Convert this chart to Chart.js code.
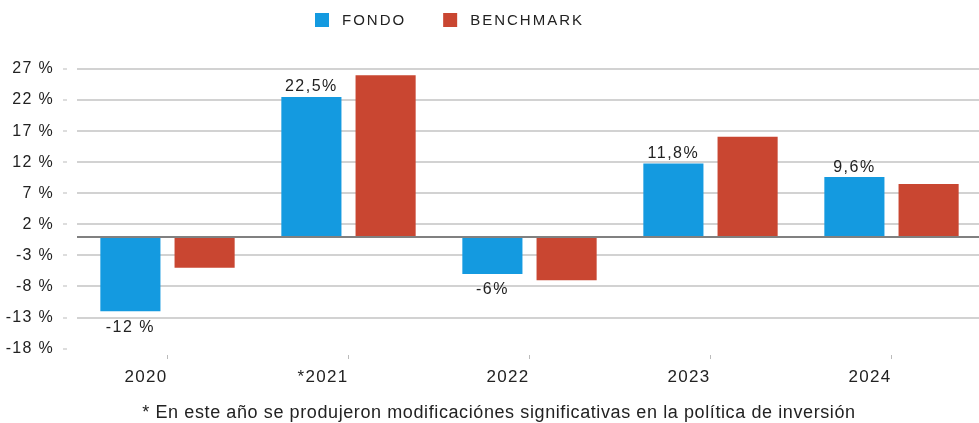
<!DOCTYPE html>
<html>
<head>
<meta charset="utf-8">
<script src="https://cdn.jsdelivr.net/npm/chart.js@4.4.1/dist/chart.umd.min.js"></script>
<style>
  html, body { margin: 0; padding: 0; background: #fff; overflow: hidden; }
  #wrap { width: 982px; height: 423px; position: relative; }
</style>
</head>
<body>
<div id="wrap"><canvas id="chart"></canvas></div>
<script>
// data
const years = ['2020', '*2021', '2022', '2023', '2024'];
const fondo = [-12, 22.5, -6, 11.8, 9.6];
const benchmark = [-5, 26, -7, 16.1, 8.5];
const fondoLabels = ['-12 %', '22,5%', '-6%', '11,8%', '9,6%'];
const yTicks = [-18, -13, -8, -3, 2, 7, 12, 17, 22, 27];
const footnote = '* En este año se produjeron modificaciónes significativas en la política de inversión';

const blue = '#149ae0';
const red = '#c94631';
const gridColor = '#d2d2d2';
const textColor = '#222';
const fontFamily = '"Liberation Sans", Arial, Helvetica, sans-serif';

// letter spacing for all canvas text (reset whenever the canvas is resized)
const spacing = {
  id: 'spacing',
  beforeLayout(chart) { chart.ctx.letterSpacing = '1.3px'; },
  beforeDraw(chart) { chart.ctx.letterSpacing = '1.3px'; }
};

// darker line at zero
const zeroLine = {
  id: 'zeroLine',
  afterDatasetsDraw(chart) {
    const { ctx, chartArea, scales } = chart;
    const y = Math.round(scales.y.getPixelForValue(0));
    ctx.save();
    ctx.strokeStyle = '#808080';
    ctx.lineWidth = 2;
    ctx.beginPath();
    ctx.moveTo(chartArea.left, y);
    ctx.lineTo(chartArea.right, y);
    ctx.stroke();
    ctx.restore();
  }
};

// value labels on the FONDO bars
const barLabels = {
  id: 'barLabels',
  afterDraw(chart) {
    const ctx = chart.ctx;
    const meta = chart.getDatasetMeta(0);
    ctx.save();
    ctx.font = '16px ' + fontFamily;
    ctx.letterSpacing = '1.5px';
    ctx.fillStyle = textColor;
    ctx.textAlign = 'center';
    meta.data.forEach((bar, i) => {
      const v = chart.data.datasets[0].data[i];
      if (v >= 0) {
        ctx.textBaseline = 'bottom';
        ctx.fillText(fondoLabels[i], bar.x, bar.y - 2);
      } else {
        ctx.textBaseline = 'top';
        ctx.fillText(fondoLabels[i], bar.x, bar.y + 8);
      }
    });
    ctx.restore();
  }
};

// legend at the top and the footnote at the bottom
const legendAndNote = {
  id: 'legendAndNote',
  afterDraw(chart) {
    const ctx = chart.ctx;
    ctx.save();
    ctx.font = '15px ' + fontFamily;
    ctx.letterSpacing = '2px';
    ctx.textBaseline = 'middle';
    ctx.textAlign = 'left';
    let x = 315;
    const cy = 20;
    chart.data.datasets.forEach(ds => {
      ctx.fillStyle = ds.backgroundColor;
      ctx.fillRect(x, cy - 7, 14, 14);
      ctx.fillStyle = textColor;
      ctx.fillText(ds.label, x + 27, cy + 1);
      x += 27 + ctx.measureText(ds.label).width + 37;
    });

    ctx.font = '18px ' + fontFamily;
    ctx.letterSpacing = '0.6px';
    ctx.textAlign = 'center';
    ctx.textBaseline = 'alphabetic';
    ctx.fillText(footnote, 499, 418);
    ctx.restore();
  }
};

new Chart(document.getElementById('chart'), {
  type: 'bar',
  data: {
    labels: years,
    datasets: [
      { label: 'FONDO', data: fondo, backgroundColor: blue },
      { label: 'BENCHMARK', data: benchmark, backgroundColor: red }
    ]
  },
  options: {
    responsive: true,
    maintainAspectRatio: false,
    animation: false,
    categoryPercentage: 0.82,
    barPercentage: 0.81,
    layout: { padding: { top: 69, right: 0, left: 0, bottom: 27 } },
    plugins: {
      legend: { display: false },
      tooltip: { enabled: false },
      title: { display: false }
    },
    scales: {
      x: {
        grid: {
          offset: false,
          drawOnChartArea: false,
          tickLength: 11,
          tickColor: '#bbb',
          tickBorderDash: [0, 6, 4, 100]
        },
        border: { display: false },
        ticks: {
          align: 'end',
          color: textColor,
          padding: 8,
          font: { family: fontFamily, size: 17 }
        }
      },
      y: {
        min: -18,
        max: 27,
        afterBuildTicks: s => { s.ticks = yTicks.map(v => ({ value: v })); },
        afterFit: s => { s.width = 77; },
        grid: {
          color: c => (c.tick && c.tick.value === -18 ? 'rgba(0,0,0,0)' : gridColor),
          lineWidth: 2,
          tickLength: 14,
          tickColor: '#bbb',
          tickWidth: 1,
          tickBorderDash: [4, 100]
        },
        border: { display: false },
        ticks: {
          color: textColor,
          padding: 9,
          font: { family: fontFamily, size: 16 },
          callback: v => v + ' %'
        }
      }
    }
  },
  plugins: [spacing, zeroLine, barLabels, legendAndNote]
});
</script>
</body>
</html>
